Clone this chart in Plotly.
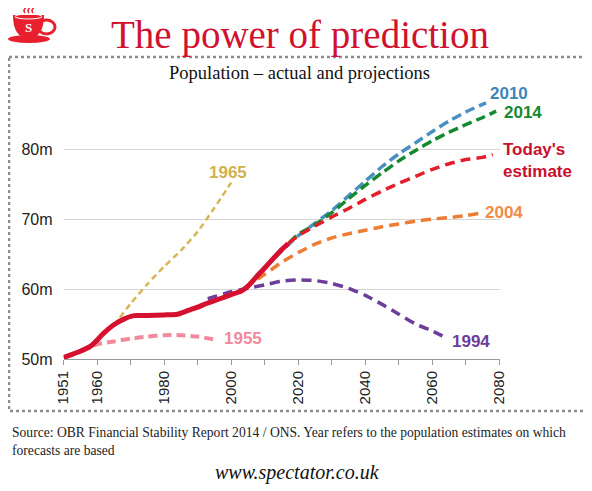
import plotly.graph_objects as go

# population, millions
actual_years = [1950, 1955, 1958, 1960, 1962, 1965, 1968, 1971, 1975, 1980, 1984, 1987,
                1990, 1993, 1996, 2000, 2003, 2005, 2008, 2010, 2013, 2015, 2017]
actual_pop = [50.2, 51.1, 51.8, 52.7, 53.7, 54.9, 55.7, 56.2, 56.2, 56.3, 56.4, 56.9,
              57.4, 58.0, 58.5, 59.2, 59.7, 60.4, 62.0, 63.0, 64.6, 65.6, 66.5]

p1955_years = [1955, 1960, 1965, 1970, 1975, 1980, 1985, 1990, 1995]
p1955_pop = [51.2, 52.1, 52.5, 52.9, 53.2, 53.4, 53.4, 53.2, 52.8]

p1965_years = [1965, 1970, 1975, 1980, 1985, 1990, 1995, 2000]
p1965_pop = [54.8, 57.9, 60.7, 63.2, 65.5, 68.2, 71.6, 75.2]

p1994_years = [1993, 1995, 2000, 2005, 2010, 2015, 2020, 2025, 2030, 2035, 2040,
               2045, 2050, 2055, 2060, 2063]
p1994_pop = [58.6, 58.9, 59.6, 60.1, 60.6, 61.1, 61.3, 61.2, 60.8, 60.1, 59.1,
             57.8, 56.4, 55.0, 54.0, 53.3]

p2004_years = [2004, 2010, 2015, 2020, 2025, 2030, 2035, 2040, 2045, 2050, 2055,
               2060, 2065, 2070, 2074]
p2004_pop = [60.1, 62.1, 63.8, 65.2, 66.4, 67.3, 67.9, 68.4, 68.9, 69.3, 69.7,
             70.0, 70.2, 70.5, 70.8]

p2010_years = [2010, 2015, 2020, 2025, 2030, 2035, 2040, 2045, 2050, 2055, 2060,
               2065, 2070, 2076]
p2010_pop = [63.0, 65.4, 67.6, 69.4, 71.2, 73.3, 75.4, 77.5, 79.3, 80.9, 82.5,
             84.0, 85.3, 86.6]

p2014_years = [2014, 2020, 2025, 2030, 2035, 2040, 2045, 2050, 2055, 2060, 2065,
               2070, 2075, 2079]
p2014_pop = [65.1, 67.8, 69.2, 70.9, 72.9, 74.8, 76.6, 78.3, 79.8, 81.2, 82.4,
             83.5, 84.5, 85.4]

today_years = [2017, 2020, 2025, 2030, 2035, 2040, 2045, 2050, 2055, 2060, 2065,
               2070, 2075, 2078]
today_pop = [66.5, 67.6, 69.0, 70.3, 71.5, 72.8, 74.0, 75.1, 76.1, 77.1, 77.9,
             78.5, 78.8, 79.2]

x_ticks = [1950, 1960, 1970, 1980, 1990, 2000, 2010, 2020, 2030, 2040, 2050, 2060, 2070, 2080]
x_labels = ["1951", "1960", "", "1980", "", "2000", "", "2020", "", "2040", "", "2060", "", "2080"]
y_ticks = [50, 60, 70, 80]
y_labels = ["50m", "60m", "70m", "80m"]

# the page body has an 8px margin, so the figure is drawn 8px in from the corner
OFF = 8
W, H = 592 - OFF, 491 - OFF
SANS = "Liberation Sans, Arial, sans-serif"
SERIF = "Liberation Serif, Times New Roman, serif"


def px(x):
    return (x - OFF) / W


def py(y):
    return 1 - (y - OFF) / H


fig = go.Figure()

series = [
    (p1955_years, p1955_pop, "#f08a9c", 4, "9px,5px"),
    (p1965_years, p1965_pop, "#d8b656", 2.5, "6px,4px"),
    (p1994_years, p1994_pop, "#6c3e9a", 3.5, "10px,6px"),
    (p2004_years, p2004_pop, "#ee7c34", 3.5, "10px,6px"),
    (p2010_years, p2010_pop, "#4a8fc1", 3.5, "10px,5px"),
    (p2014_years, p2014_pop, "#168a31", 3.5, "10px,5px"),
    (today_years, today_pop, "#e41f2c", 3.5, "10px,6px"),
]
for xs, ys, col, w, dash in series:
    fig.add_trace(go.Scatter(x=xs, y=ys, mode="lines",
                             line=dict(color=col, width=w, dash=dash,
                                       shape="spline", smoothing=0.6)))

fig.add_trace(go.Scatter(x=actual_years, y=actual_pop, mode="lines",
                         line=dict(color="#d6112f", width=5, shape="spline", smoothing=0.5)))

labels = [
    ("1965", 228, 172, "#cfb24f"),
    ("1955", 243, 338, "#f08a9c"),
    ("2010", 509, 94, "#3d86b8"),
    ("2014", 523, 112, "#168a31"),
    ("2004", 504, 212, "#f08c48"),
    ("1994", 471, 341, "#6c3e9a"),
]
annotations = []
for txt, x, y, col in labels:
    annotations.append(dict(text="<b>%s</b>" % txt, x=px(x), y=py(y), xref="paper", yref="paper",
                            showarrow=False, xanchor="center", yanchor="middle",
                            font=dict(family=SANS, size=17, color=col)))
annotations.append(dict(text="<b>Today's<br>estimate</b>", x=px(501), y=py(160),
                        xref="paper", yref="paper", showarrow=False, xanchor="left",
                        yanchor="middle", align="left",
                        font=dict(family=SANS, size=17, color="#c8102e")))

# titles and footer
annotations += [
    dict(text="The power of prediction", x=px(300), y=py(35), xref="paper", yref="paper",
         showarrow=False, xanchor="center", yanchor="middle",
         font=dict(family=SERIF, size=39, color="#d0122f")),
    dict(text="Population – actual and projections", x=px(299), y=py(73), xref="paper",
         yref="paper", showarrow=False, xanchor="center", yanchor="middle",
         font=dict(family=SERIF, size=18.5, color="#111")),
    dict(text="Source: OBR Financial Stability Report 2014 / ONS. Year refers to the population estimates on which<br>forecasts are based",
         x=px(10), y=py(441), xref="paper", yref="paper", showarrow=False, xanchor="left",
         yanchor="middle", align="left", font=dict(family=SERIF, size=13.6, color="#222")),
    dict(text="<i>www.spectator.co.uk</i>", x=px(297), y=py(472), xref="paper", yref="paper",
         showarrow=False, xanchor="center", yanchor="middle",
         font=dict(family=SERIF, size=20, color="#111")),
    dict(text="<b>S</b>", x=px(28), y=py(27), xref="paper", yref="paper", showarrow=False,
         xanchor="center", yanchor="middle", font=dict(family=SERIF, size=13, color="white")),
]

shapes = [
    # dotted frame
    dict(type="rect", xref="paper", yref="paper", x0=px(9), x1=px(587), y0=py(57), y1=py(411),
         line=dict(color="#8c8c8c", width=2.5, dash="dot"), layer="below"),
    # teacup logo
    dict(type="circle", xref="paper", yref="paper", x0=px(38), x1=px(55), y0=py(20), y1=py(34),
         line=dict(color="#e8202e", width=3)),
    dict(type="circle", xref="paper", yref="paper", x0=px(8), x1=px(50), y0=py(35), y1=py(43),
         fillcolor="#e8202e", line=dict(width=0)),
    dict(type="path", xref="paper", yref="paper",
         path="M %f,%f L %f,%f Q %f,%f %f,%f Q %f,%f %f,%f Z" % (
             px(13), py(15), px(44), py(15), px(44), py(38), px(28.5), py(38),
             px(13), py(38), px(13), py(15)),
         fillcolor="#e8202e", line=dict(width=0)),
    dict(type="circle", xref="paper", yref="paper", x0=px(15), x1=px(42), y0=py(14), y1=py(19),
         line=dict(color="white", width=1)),
]
for sx in (25, 29, 33):
    shapes.append(dict(type="path", xref="paper", yref="paper",
                       path="M %f,%f Q %f,%f %f,%f Q %f,%f %f,%f" % (
                           px(sx), py(13), px(sx - 2), py(10.5), px(sx), py(8.5),
                           px(sx + 2), py(6.5), px(sx), py(4)),
                       line=dict(color="#e8202e", width=1.5)))

fig.update_layout(
    width=W, height=H,
    margin=dict(l=0, r=0, t=0, b=0),
    paper_bgcolor="white", plot_bgcolor="white",
    showlegend=False,
    annotations=annotations,
    shapes=shapes,
    xaxis=dict(domain=[px(63.5), px(499.5)], range=[1950, 2080], tickmode="array",
               tickvals=x_ticks, ticktext=x_labels, tickangle=-90, ticks="outside",
               ticklen=5, tickcolor="#999", showline=True, linecolor="#999", linewidth=1,
               showgrid=False, zeroline=False, automargin=False,
               tickfont=dict(family=SANS, size=15, color="#222")),
    yaxis=dict(domain=[py(359), py(79)], range=[50, 90], tickmode="array",
               tickvals=y_ticks, ticktext=y_labels, showgrid=True, gridcolor="#d4d4d4",
               gridwidth=1, zeroline=False, showline=False, ticks="", automargin=False,
               ticklabelstandoff=10,
               tickfont=dict(family=SANS, size=16, color="#222")),
)

fig.write_html("out.html")
